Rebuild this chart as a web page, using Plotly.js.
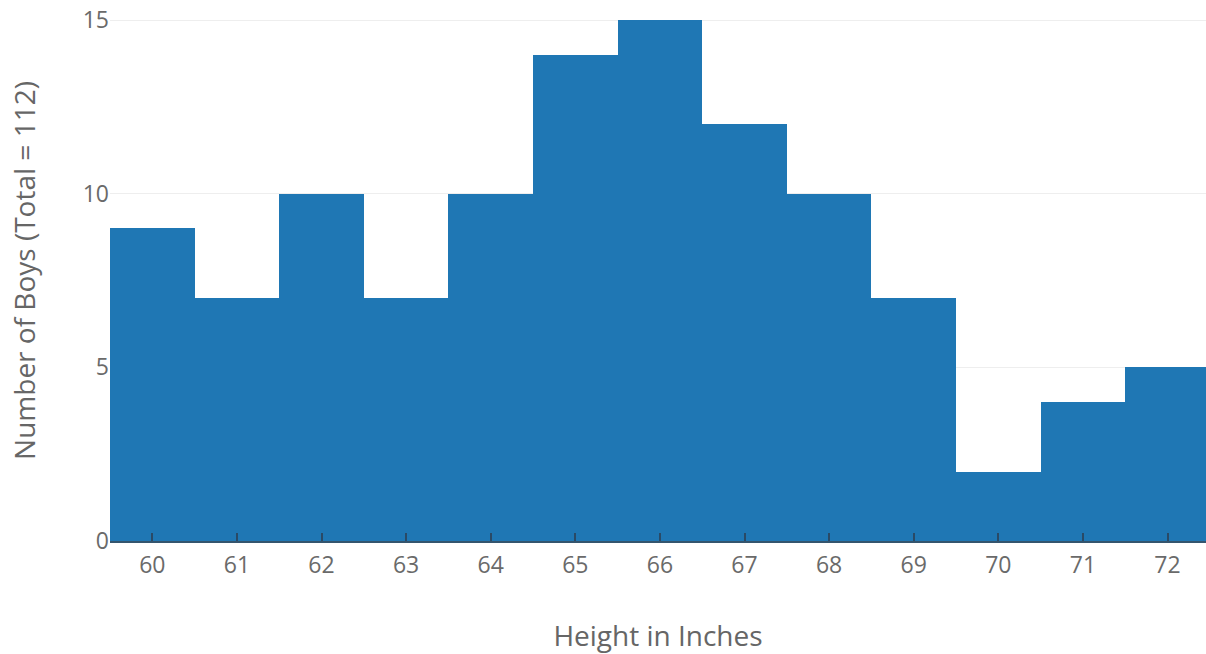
<!DOCTYPE html>
<html>
<head>
<meta charset="utf-8">
<script src="https://cdn.plot.ly/plotly-3.0.1.min.js"></script>
<style>html,body{margin:0;padding:0;background:#fff;}#chart{width:1206px;height:654px;}</style>
</head>
<body>
<div id="chart"></div>
<script>
const heights = [60, 61, 62, 63, 64, 65, 66, 67, 68, 69, 70, 71, 72];
const boys = [9, 7, 10, 7, 10, 14, 15, 12, 10, 7, 2, 4, 5];
const xTitle = 'Height in Inches';
const yTitle = 'Number of Boys (Total = 112)';

const trace = {
  type: 'bar',
  x: heights,
  y: boys,
  width: 1,
  marker: {color: '#1f77b4', line: {width: 0}},
  hoverinfo: 'x+y'
};

const layout = {
  width: 1206,
  height: 654,
  margin: {l: 110, r: 0, t: 0, b: 113, pad: 0},
  paper_bgcolor: '#ffffff',
  plot_bgcolor: '#ffffff',
  bargap: 0,
  showlegend: false,
  font: {family: '"Open Sans", "DejaVu Sans", sans-serif', color: '#666'},
  xaxis: {
    range: [59.5, 72.455],
    tickmode: 'linear',
    tick0: 60,
    dtick: 1,
    ticks: 'inside',
    ticklen: 8,
    tickwidth: 2,
    tickcolor: '#2a4a66',
    showline: true,
    linecolor: '#34556e',
    linewidth: 2,
    showgrid: false,
    zeroline: false,
    tickfont: {size: 23, color: '#6a6a6a'},
    ticklabelstandoff: 2,
    automargin: false,
    title: {text: xTitle, font: {size: 28, color: '#666'}, standoff: 48}
  },
  yaxis: {
    range: [0, 15.577],
    tickmode: 'linear',
    tick0: 0,
    dtick: 5,
    ticks: '',
    showgrid: true,
    gridcolor: '#eeeeee',
    gridwidth: 1,
    zeroline: false,
    showline: false,
    tickfont: {size: 23, color: '#6a6a6a'},
    automargin: false,
    title: {text: yTitle, font: {size: 28, color: '#666'}, standoff: 38}
  }
};

Plotly.newPlot('chart', [trace], layout, {displayModeBar: false, staticPlot: true});
</script>
</body>
</html>
